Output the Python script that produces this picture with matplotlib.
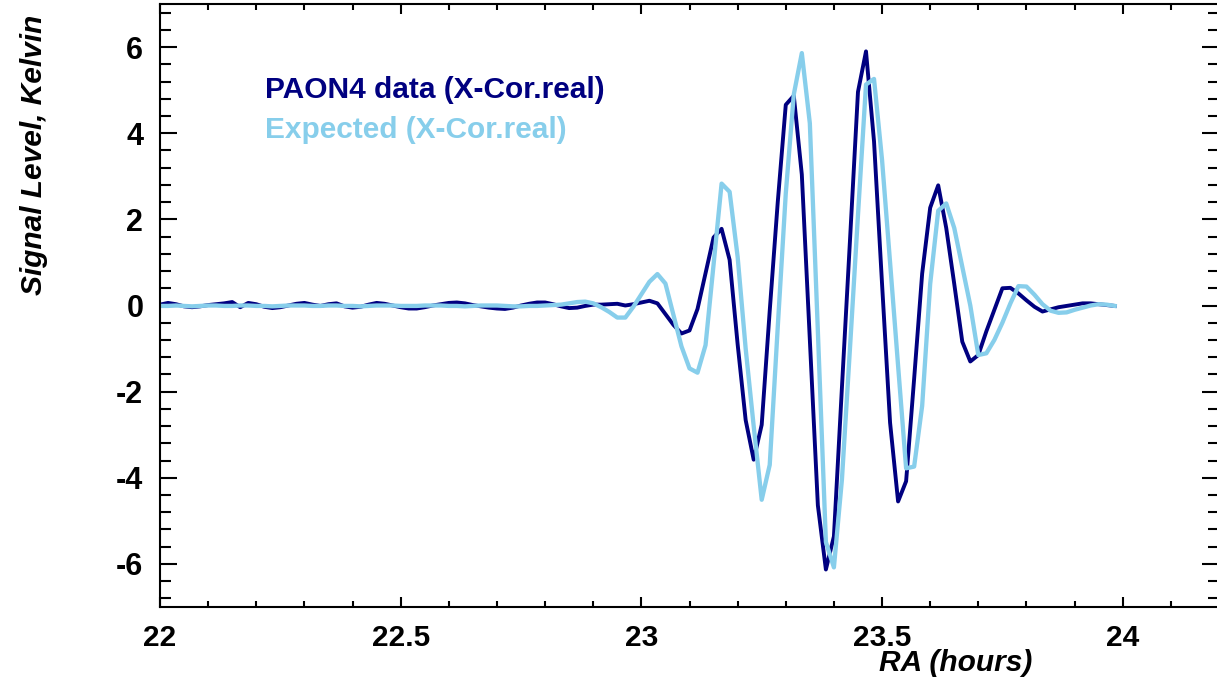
import numpy as np
import matplotlib
matplotlib.use('Agg')
import matplotlib.pyplot as plt
from matplotlib.ticker import MultipleLocator, FuncFormatter

# RA sampling: one point per minute starting at 22h
ra_start = 22.0
ra_step = 1.0 / 60.0

# PAON4 measured cross-correlation (real part), Kelvin
paon4 = [
    0.02, 0.06, 0.03, -0.02, -0.04, -0.02, 0.01, 0.03, 0.05, 0.08,
    -0.04, 0.06, 0.03, -0.03, -0.06, -0.04, 0.00, 0.04, 0.06, 0.02,
    -0.01, 0.03, 0.05, -0.02, -0.05, -0.03, 0.02, 0.06, 0.04, 0.00,
    -0.04, -0.07, -0.07, -0.04, 0.00, 0.03, 0.06, 0.07, 0.05, 0.01,
    -0.02, -0.05, -0.07, -0.08, -0.05, 0.00, 0.04, 0.07, 0.07, 0.03,
    -0.02, -0.06, -0.05, -0.01, 0.02, 0.02, 0.03, 0.04, 0.00, 0.03,
    0.07, 0.11, 0.05, -0.20, -0.45, -0.65, -0.58, -0.08, 0.75, 1.58,
    1.78, 1.06, -0.90, -2.66, -3.58, -2.77, -0.12, 2.40, 4.66, 4.87,
    3.04, -0.80, -4.64, -6.13, -5.36, -1.90, 1.50, 4.96, 5.90, 3.81,
    0.50, -2.72, -4.55, -4.08, -1.70, 0.74, 2.27, 2.79, 1.80, 0.50,
    -0.84, -1.30, -1.15, -0.60, -0.10, 0.40, 0.41, 0.28, 0.12, -0.03,
    -0.14, -0.09, -0.04, -0.01, 0.02, 0.05, 0.05, 0.03, 0.01, -0.01,
]

# expected signal from the source model
expected = [
    -0.01, -0.01, 0.00, -0.01, -0.02, -0.01, 0.00, 0.00, -0.01, -0.01,
    0.00, 0.00, -0.01, -0.01, -0.02, -0.01, 0.00, 0.00, 0.00, -0.01,
    -0.01, 0.00, 0.00, -0.01, -0.01, -0.02, -0.01, 0.00, 0.00, 0.00,
    -0.01, -0.01, -0.01, 0.00, 0.00, 0.00, -0.01, -0.01, -0.02, -0.01,
    0.00, 0.00, 0.00, -0.01, -0.02, -0.02, -0.01, -0.01, 0.00, 0.01,
    0.02, 0.05, 0.08, 0.09, 0.05, -0.04, -0.15, -0.28, -0.28, -0.03,
    0.26, 0.55, 0.73, 0.51, -0.22, -0.95, -1.46, -1.56, -0.92, 0.95,
    2.83, 2.64, 1.13, -1.00, -2.80, -4.51, -3.70, -0.50, 2.60, 4.90,
    5.86, 4.23, -0.60, -5.49, -6.08, -4.04, -1.00, 2.10, 5.13, 5.26,
    3.38, 1.00, -1.40, -3.78, -3.74, -2.33, 0.50, 2.20, 2.37, 1.80,
    0.90, 0.00, -1.15, -1.11, -0.80, -0.40, 0.05, 0.45, 0.44, 0.25,
    0.03, -0.12, -0.17, -0.16, -0.10, -0.05, 0.00, 0.03, 0.02, -0.01,
]

labels = ['PAON4 data (X-Cor.real)', 'Expected (X-Cor.real)']
colors = ['#000080', '#87ceeb']

ra = ra_start + ra_step * np.arange(len(paon4))

plt.rcParams['font.family'] = ['Liberation Sans', 'DejaVu Sans']
plt.rcParams['font.weight'] = 'bold'
plt.rcParams['axes.unicode_minus'] = False

fig = plt.figure(figsize=(12.17, 6.80), dpi=100)
ax = fig.add_axes([160 / 1217, 73 / 680, 1059 / 1217, 603 / 680])

l1, = ax.plot(ra, paon4, color=colors[0], lw=2.8, label=labels[0])
l2, = ax.plot(ra, expected, color=colors[1], lw=3.1, label=labels[1])

ax.set_xlim(22, 24.2)
ax.set_ylim(-7, 7)

ax.xaxis.set_major_locator(MultipleLocator(0.5))
ax.xaxis.set_minor_locator(MultipleLocator(0.1))
ax.yaxis.set_major_locator(MultipleLocator(2))
ax.yaxis.set_minor_locator(MultipleLocator(0.4))
ax.xaxis.set_major_formatter(FuncFormatter(lambda v, p: '%g' % v))
ax.yaxis.set_major_formatter(FuncFormatter(lambda v, p: '%g' % v))

ax.tick_params(axis='y', which='major', direction='in', length=12, width=1.5,
               left=True, right=True, labelsize=22, pad=12)
ax.tick_params(axis='y', which='minor', direction='in', length=8, width=1.5,
               left=True, right=True)
ax.tick_params(axis='x', which='major', direction='in', length=7, width=1.5,
               top=True, bottom=True, labelsize=21.5, pad=12)
ax.tick_params(axis='x', which='minor', direction='in', length=4, width=1.5,
               top=True, bottom=True)
for s in ax.spines.values():
    s.set_linewidth(1.5)

ax.set_xlabel('RA (hours)', fontsize=21.5, style='italic', fontweight='bold')
ax.xaxis.set_label_coords(0.751, -0.070)
ax.set_ylabel('Signal Level, Kelvin', fontsize=21.5, style='italic', fontweight='bold')
ax.yaxis.set_label_coords(-0.106, 0.75)

leg = ax.legend(handles=[l1, l2], loc='upper left', bbox_to_anchor=(0.099, 0.881),
                frameon=False, handlelength=0, handletextpad=0, borderpad=0,
                borderaxespad=0, labelspacing=0.40, labelcolor='linecolor',
                prop={'size': 21.5, 'weight': 'bold'})
for h in leg.legend_handles:
    h.set_visible(False)

fig.savefig('out.png', dpi=100)
